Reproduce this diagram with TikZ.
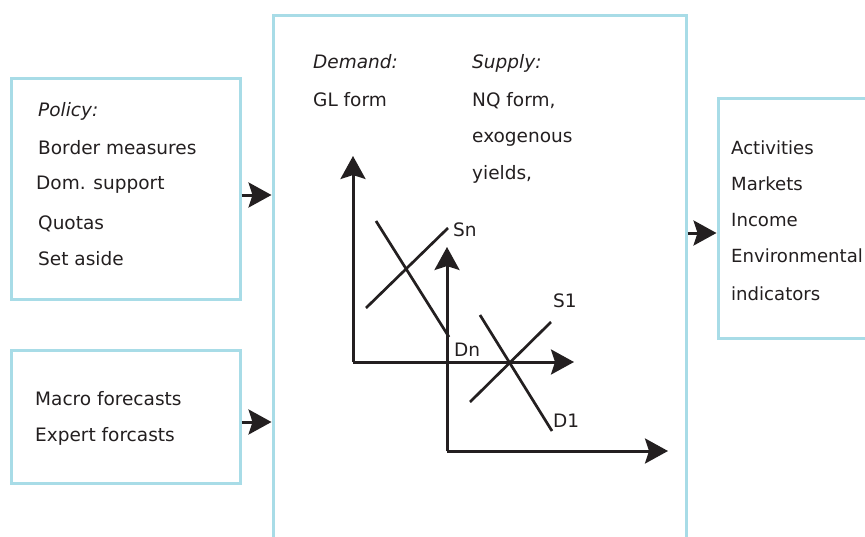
\documentclass[tikz,border=0pt]{standalone}
\usepackage{fontspec}
\setmainfont{DejaVu Sans}
\usetikzlibrary{arrows.meta}
\definecolor{boxblue}{RGB}{168,220,231}
\definecolor{ink}{RGB}{35,31,32}
\tikzset{
  panel/.style={draw=boxblue, line width=3pt, inner sep=0pt},
  txt/.style={anchor=base west, inner sep=0pt, text=ink, font=\fontsize{18.5}{21}\selectfont},
  itxt/.style={txt, font=\fontsize{18.5}{21}\selectfont\itshape},
  rtxt/.style={txt, font=\fontsize{18.1}{21}\selectfont},
  tip/.style={-{Stealth[length=23pt, width=25pt, inset=4pt]}},
  flow/.style={draw=ink, line width=3pt, tip},
  axis/.style={draw=ink, line width=3pt, tip},
  curve/.style={draw=ink, line width=2.7pt}
}
\begin{document}
\begin{tikzpicture}[x=1pt, y=-1pt]
\useasboundingbox (0,0) rectangle (865,536);
\clip (0,0) rectangle (865,536);
\fill[white] (0,0) rectangle (865,536);

% boxes
\node[panel, minimum width=229pt, minimum height=221pt] (policy) at (125.5,188.5) {};
\node[panel, minimum width=229pt, minimum height=133pt] (macro) at (125.5,416.5) {};
\node[panel, minimum width=413pt, minimum height=545pt] (model) at (479.5,287.5) {};
\node[panel, minimum width=182pt, minimum height=240pt] (results) at (809,218) {};

% policy inputs
\node[itxt] (p0) at (38,116.7) {Policy:};
\node[txt] (p1) at (38,154) {Border measures};
\node[txt] (p2) at (36,189) {Dom. support};
\node[txt] (p3) at (38,229) {Quotas};
\node[txt] (p4) at (38,265.7) {Set aside};

% forecasts
\node[txt] (m1) at (35,405) {Macro forecasts};
\node[txt] (m2) at (35,441.7) {Expert forcasts};

% model specification
\node[itxt] (d0) at (313,68.3) {Demand:};
\node[txt] (d1) at (313,106) {GL form};
\node[itxt] (s0) at (472,68.3) {Supply:};
\node[txt] (s1) at (472,106) {NQ form,};
\node[txt] (s2) at (472,142.7) {exogenous};
\node[txt] (s3) at (472,179.7) {yields,};

% outputs
\node[rtxt] (r1) at (731,154) {Activities};
\node[rtxt] (r2) at (731,190.7) {Markets};
\node[rtxt] (r3) at (731,226.7) {Income};
\node[rtxt] (r4) at (731,262.3) {Environmental};
\node[rtxt] (r5) at (731,300.7) {indicators};

% flows between boxes
\draw[flow] ([yshift=-6.5pt]policy.east) -- ([yshift=-6.5pt]policy.east -| model.west);
\draw[flow] ([yshift=-5.5pt]macro.east) -- ([yshift=-5.5pt]macro.east -| model.west);
\draw[flow] ([yshift=-15pt]results.west -| model.east) -- ([yshift=-15pt]results.west);

% market diagrams
\coordinate (o1) at (353,362);
\coordinate (y1) at (353,156);
\coordinate (x1) at (574,362);
\coordinate (o2) at (447,451);
\coordinate (y2) at (447,247);
\coordinate (x2) at (668,451);
\draw[axis] (o1) -- (y1);
\draw[axis] (o1) -- (x1);
\draw[axis] (o2) -- (y2);
\draw[axis] (o2) -- (x2);

\coordinate (dnA) at (376,221);
\coordinate (dnB) at (449,337);
\coordinate (snA) at (366,308);
\coordinate (snB) at (448,228);
\coordinate (d1A) at (480,315);
\coordinate (d1B) at (552,431);
\coordinate (s1A) at (470,402);
\coordinate (s1B) at (551,322);
\draw[curve] (dnA) -- (dnB);
\draw[curve] (snA) -- (snB);
\draw[curve] (d1A) -- (d1B);
\draw[curve] (s1A) -- (s1B);

\node[txt] (lSn) at (453,236) {Sn};
\node[txt] (lDn) at (454,356.7) {Dn};
\node[txt] (lS1) at (553,307.3) {S1};
\node[txt] (lD1) at (553,427.3) {D1};
\end{tikzpicture}
\end{document}
